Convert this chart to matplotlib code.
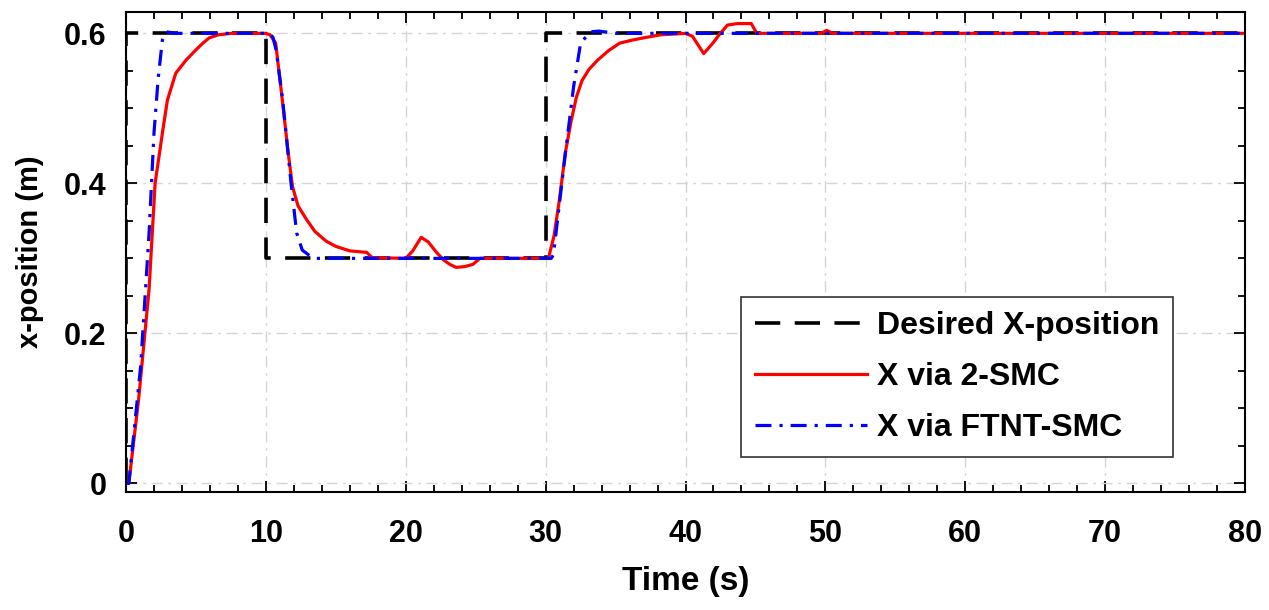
import matplotlib
matplotlib.use('Agg')
import matplotlib.pyplot as plt
from matplotlib.ticker import MultipleLocator

# --- data ---
t_desired = [0, 0, 10, 10, 30, 30, 80]
x_desired = [0, 0.6, 0.6, 0.3, 0.3, 0.6, 0.6]

t_2smc = [0, 0.2, 0.9, 1.65, 2.08, 2.6, 2.96, 3.56, 4.28, 5.0, 5.5, 5.95, 6.6,
          7.5, 10.0, 10.3, 10.7, 11.2, 11.6, 11.9, 12.3, 12.9, 13.5, 14.3,
          15.0, 16.0, 17.2, 17.6, 20.0, 20.5, 21.1, 21.6, 22.2, 22.7, 23.15,
          23.6, 24.2, 24.8, 25.3, 30.2, 30.6, 31.0, 31.4, 31.8, 32.2, 32.6,
          33.1, 33.7, 34.5, 35.3, 36.2, 37.0, 38.2, 40.0, 40.5, 41.3, 42.0,
          42.4, 43.0, 43.7, 44.7, 45.1, 49.7, 50.1, 50.5, 80]
x_2smc = [0, 0, 0.112, 0.259, 0.40, 0.467, 0.511, 0.547, 0.564, 0.578, 0.587,
          0.594, 0.598, 0.6, 0.6, 0.598, 0.587, 0.507, 0.44, 0.396, 0.37,
          0.352, 0.336, 0.323, 0.316, 0.310, 0.308, 0.301, 0.3, 0.31, 0.328,
          0.322, 0.308, 0.298, 0.292, 0.288, 0.289, 0.292, 0.3, 0.3, 0.33,
          0.38, 0.44, 0.481, 0.515, 0.537, 0.552, 0.564, 0.577, 0.587, 0.591,
          0.594, 0.598, 0.6, 0.596, 0.573, 0.588, 0.598, 0.611, 0.613, 0.613,
          0.6, 0.6, 0.604, 0.6, 0.6]

t_ftnt = [0, 0.2, 1.05, 1.65, 2.0, 2.3, 2.6, 2.9, 3.5, 10.2, 10.5, 10.73, 11.2,
          11.8, 12.2, 12.6, 13.1, 13.6, 30.4, 30.56, 31.3, 32.0, 32.5, 33.2,
          33.8, 35.0, 80]
x_ftnt = [0, 0, 0.157, 0.334, 0.467, 0.54, 0.591, 0.602, 0.6, 0.6, 0.595,
          0.578, 0.511, 0.40, 0.334, 0.311, 0.304, 0.3, 0.3, 0.305, 0.423,
          0.529, 0.587, 0.602, 0.603, 0.6, 0.6]

labels = ['Desired X-position', 'X via 2-SMC', 'X via FTNT-SMC']

plt.rcParams['font.family'] = ['Liberation Sans', 'DejaVu Sans']
plt.rcParams['font.weight'] = 'bold'

fig = plt.figure(figsize=(12.69, 6.10), dpi=100)
ax = fig.add_axes([0.0993, 0.194, 0.8818, 0.787])

ax.plot(t_desired, x_desired, color='black', lw=2.6, ls=(0, (7, 4)),
        label=labels[0])
ax.plot(t_2smc, x_2smc, color='#ff0000', lw=2.3, label=labels[1])
ax.plot(t_ftnt, x_ftnt, color='#0000ff', lw=2.3, ls=(0, (5, 2.5, 1, 2.5)),
        label=labels[2])

ax.set_xlim(0, 80)
ax.set_ylim(-0.011, 0.629)
ax.set_xticks([0, 10, 20, 30, 40, 50, 60, 70, 80])
ax.set_yticks([0, 0.2, 0.4, 0.6])
ax.set_yticklabels(['0', '0.2', '0.4', '0.6'])
ax.xaxis.set_minor_locator(MultipleLocator(2))
ax.yaxis.set_minor_locator(MultipleLocator(0.05))
ax.tick_params(which='both', direction='in', top=True, right=True,
               labelsize=22, width=1.3)
ax.tick_params(which='major', length=8)
ax.tick_params(which='minor', length=5)
ax.tick_params(axis='x', pad=20)
ax.tick_params(axis='y', pad=14)
for s in ax.spines.values():
    s.set_linewidth(1.5)

ax.grid(True, which='major', color='#d4d4d4', ls=(0, (8, 4, 2, 4)), lw=1.0)

ax.set_xlabel('Time (s)', fontsize=24, fontweight='bold', labelpad=12)
ax.set_ylabel('x-position (m)', fontsize=21, fontweight='bold', labelpad=14)

leg = ax.legend(loc='lower right', bbox_to_anchor=(0.936, 0.072),
                borderaxespad=0, fontsize=23, handlelength=3.5,
                handletextpad=0.3, labelspacing=0.65, fancybox=False,
                framealpha=1, edgecolor='#333333', borderpad=0.45)
leg.get_frame().set_linewidth(1.2)

plt.savefig('out.png', dpi=100)
